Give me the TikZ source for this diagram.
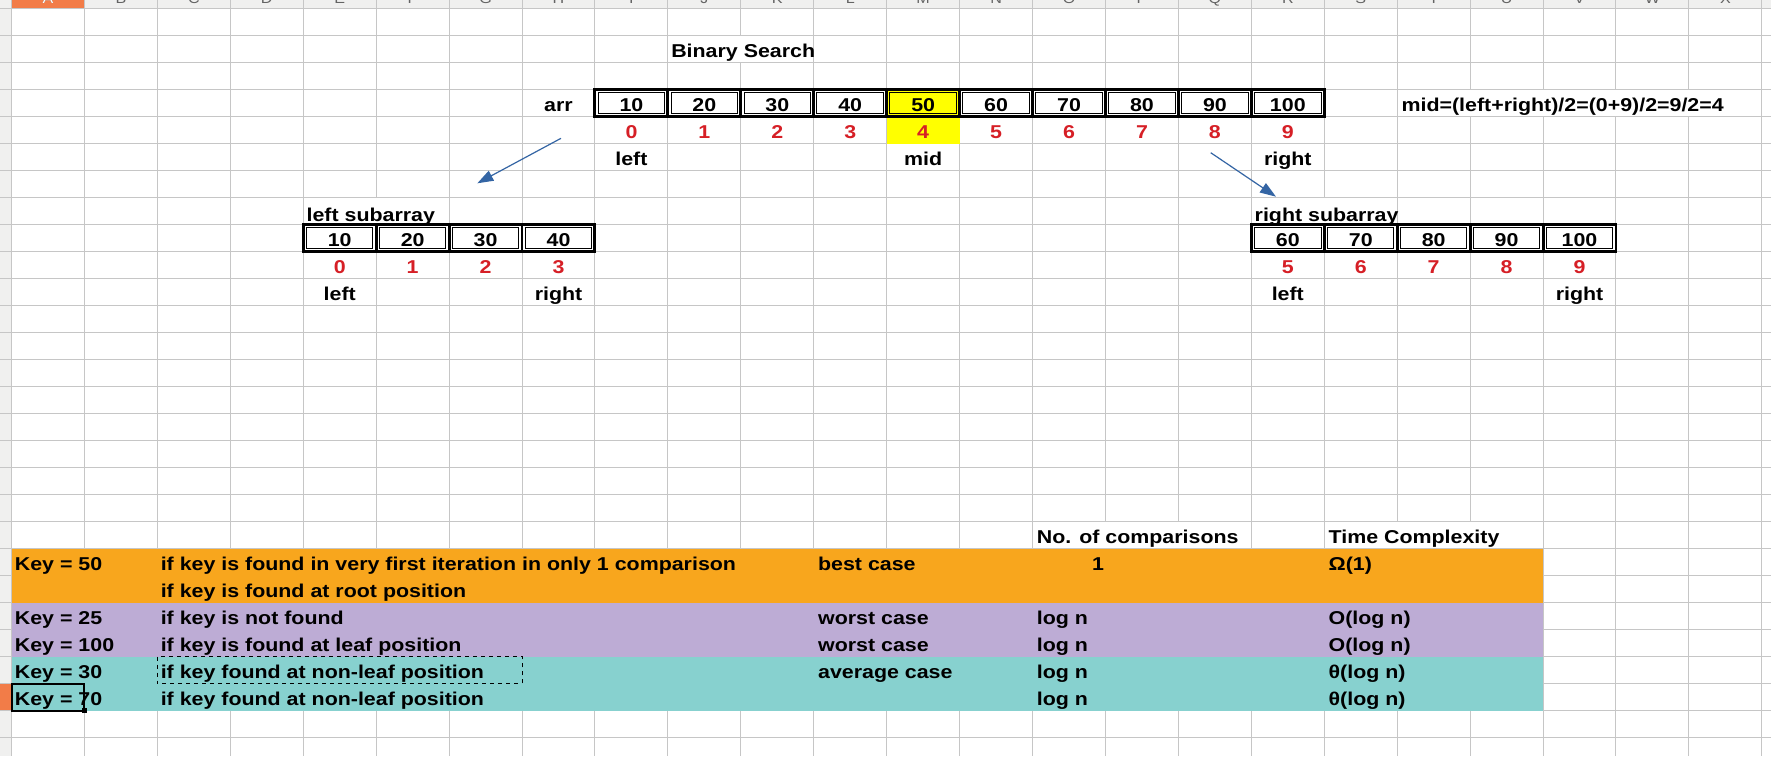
\documentclass[tikz,border=0pt]{standalone}
\usepackage{fontspec}
\setmainfont{Liberation Sans}[FakeStretch=1.15]
\usetikzlibrary{arrows.meta}
\definecolor{gridgray}{RGB}{198,198,198}
\definecolor{hdrgray}{RGB}{240,240,239}
\definecolor{hdrsel}{RGB}{242,124,72}
\definecolor{hdrtext}{RGB}{100,100,100}
\definecolor{bandorange}{RGB}{248,166,29}
\definecolor{bandpurple}{RGB}{189,172,213}
\definecolor{bandteal}{RGB}{135,209,207}
\definecolor{hlyellow}{RGB}{255,255,0}
\definecolor{idxred}{RGB}{214,31,38}
\definecolor{arrowblue}{RGB}{52,101,164}
\newcommand\colx[1]{(11.5+72.93*(#1))}
\newcommand\rowy[1]{(8.7+27*(#1))}
\newcommand\celltext{\fontsize{9.3pt}{11pt}\selectfont\bfseries}
\newcommand\dblcell[2]{%
  \draw[line width=1.45pt] ({\colx{#1}},{\rowy{#2-1}}) rectangle ({\colx{#1+1}},{\rowy{#2}});
  \draw[line width=0.5pt] ({\colx{#1}+3.2},{\rowy{#2-1}+3.2}) rectangle ({\colx{#1+1}-3.2},{\rowy{#2}-3.2});
}
\newcommand\hidev[3]{\fill[white] ({\colx{#1}+0.6},{\rowy{#3-1}+0.6}) rectangle ({\colx{#2+1}-0.6},{\rowy{#3}-0.6});}
\begin{document}
\begin{tikzpicture}[x=0.5pt,y=-0.5pt,
  cell/.style={inner sep=0pt, font=\celltext, anchor=base},
  lcell/.style={cell, anchor=base west},
  idx/.style={cell, text=idxred},
  hdr/.style={inner sep=0pt, anchor=base, font=\fontsize{7pt}{8pt}\selectfont, text=hdrtext},
  gridline/.style={draw=gridgray, line width=0.5pt},
  arrowline/.style={draw=arrowblue, line width=0.6pt, -{Triangle[length=8pt,width=5.5pt]}},
]
\useasboundingbox (0,0) rectangle (1771,756);
\clip (0,0) rectangle (1771,756);
\fill[white] (0,0) rectangle (1771,756);
% headers
\fill[hdrgray] (0,0) rectangle (1771,8.7);
\fill[hdrgray] (0,0) rectangle (11.5,756);
\fill[hdrsel] (11.5,0) rectangle ({\colx{1}},8.7);
\fill[hdrsel] (0,{\rowy{25}}) rectangle (11.5,{\rowy{26}});
% grid
\foreach \k in {0,...,24} \draw[gridline] ({\colx{\k}},0) -- ({\colx{\k}},756);
\foreach \j in {0,...,27} \draw[gridline] (0,{\rowy{\j}}) -- (1771,{\rowy{\j}});
\foreach \L [count=\n from 0] in {A,B,C,D,E,F,G,H,I,J,K,L,M,N,O,P,Q,R,S,T,U,V,W,X}
  \node[hdr] (h\n) at ({\colx{\n}+36.5},3.5) {\L};
\node[hdr, text=white] (hA) at ({\colx{0}+36.5},3.5) {A};
% hide grid lines under overflowing text
\hidev{9}{10}{2}
\hidev{19}{23}{4}
\hidev{4}{5}{8}
\hidev{17}{18}{8}
\hidev{14}{16}{20}
\hidev{18}{20}{20}
% fills
\fill[hlyellow] ({\colx{12}},{\rowy{3}}) rectangle ({\colx{13}},{\rowy{5}});
\fill[bandorange] ({\colx{0}},{\rowy{20}}) rectangle ({\colx{21}},{\rowy{22}});
\fill[bandpurple] ({\colx{0}},{\rowy{22}}) rectangle ({\colx{21}},{\rowy{24}});
\fill[bandteal] ({\colx{0}},{\rowy{24}}) rectangle ({\colx{21}},{\rowy{26}});
% double-bordered arrays
\foreach \k in {8,...,17} {\dblcell{\k}{4}}
\foreach \k in {4,...,7} {\dblcell{\k}{9}}
\foreach \k in {17,...,21} {\dblcell{\k}{9}}
% top texts
\node[lcell] (title) at ({\colx{9}+3},{\rowy{2}-5.5}) {Binary Search};
\node[cell] (arr) at ({\colx{7}+36.5},{\rowy{4}-5.5}) {arr};
\foreach \v [count=\i from 0] in {10,20,30,40,50,60,70,80,90,100} {
  \node[cell] (v\i) at ({\colx{8+\i}+36.5},{\rowy{4}-5.5}) {\v};
  \node[idx] (ix\i) at ({\colx{8+\i}+36.5},{\rowy{5}-5.5}) {\i};
}
\node[cell] (lft) at ({\colx{8}+36.5},{\rowy{6}-5.5}) {left};
\node[cell] (mid) at ({\colx{12}+36.5},{\rowy{6}-5.5}) {mid};
\node[cell] (rgt) at ({\colx{17}+36.5},{\rowy{6}-5.5}) {right};
\node[lcell] (formula) at ({\colx{19}+4},{\rowy{4}-5.5}) {mid=(left+right)/2=(0+9)/2=9/2=4};
% left subarray
\node[lcell] (lsub) at ({\colx{4}+3},{\rowy{8}-3}) {left subarray};
\foreach \v [count=\i from 0] in {10,20,30,40} {
  \node[cell] (lv\i) at ({\colx{4+\i}+36.5},{\rowy{9}-5.5}) {\v};
  \node[idx] (lix\i) at ({\colx{4+\i}+36.5},{\rowy{10}-5.5}) {\i};
}
\node[cell] (llft) at ({\colx{4}+36.5},{\rowy{11}-5.5}) {left};
\node[cell] (lrgt) at ({\colx{7}+36.5},{\rowy{11}-5.5}) {right};
% right subarray
\node[lcell] (rsub) at ({\colx{17}+3},{\rowy{8}-3}) {right subarray};
\foreach \v [count=\i from 0] in {60,70,80,90,100} {
  \node[cell] (rv\i) at ({\colx{17+\i}+36.5},{\rowy{9}-5.5}) {\v};
  \pgfmathtruncatemacro\ri{5+\i}
  \node[idx] (rix\i) at ({\colx{17+\i}+36.5},{\rowy{10}-5.5}) {\ri};
}
\node[cell] (rlft) at ({\colx{17}+36.5},{\rowy{11}-5.5}) {left};
\node[cell] (rrgt) at ({\colx{21}+36.5},{\rowy{11}-5.5}) {right};
% arrows
\coordinate (la1) at (561,138.3);
\coordinate (la2) at (477.3,183.3);
\coordinate (ra1) at (1210.7,152.7);
\coordinate (ra2) at (1276,196.7);
\draw[arrowline] (la1) -- (la2);
\draw[arrowline] (ra1) -- (ra2);
% bottom table
\node[lcell] (hcmp) at ({\colx{14}+4},{\rowy{20}-5.5}) {No. of comparisons};
\node[lcell] (htc) at ({\colx{18}+4},{\rowy{20}-5.5}) {Time Complexity};
\node[lcell] (k50) at ({\colx{0}+3},{\rowy{21}-5.5}) {Key = 50};
\node[lcell] (d50) at ({\colx{2}+3},{\rowy{21}-5.5}) {if key is found in very first iteration in only 1 comparison};
\node[lcell] (c50) at ({\colx{11}+4},{\rowy{21}-5.5}) {best case};
\node[cell] (n50) at (1098,{\rowy{21}-5.5}) {1};
\node[lcell] (t50) at ({\colx{18}+4},{\rowy{21}-5.5}) {Ω(1)};
\node[lcell] (d50b) at ({\colx{2}+3},{\rowy{22}-5.5}) {if key is found at root position};
\node[lcell] (k25) at ({\colx{0}+3},{\rowy{23}-5.5}) {Key = 25};
\node[lcell] (d25) at ({\colx{2}+3},{\rowy{23}-5.5}) {if key is not found};
\node[lcell] (c25) at ({\colx{11}+4},{\rowy{23}-5.5}) {worst case};
\node[lcell] (n25) at ({\colx{14}+4},{\rowy{23}-5.5}) {log n};
\node[lcell] (t25) at ({\colx{18}+4},{\rowy{23}-5.5}) {O(log n)};
\node[lcell] (k100) at ({\colx{0}+3},{\rowy{24}-5.5}) {Key = 100};
\node[lcell] (d100) at ({\colx{2}+3},{\rowy{24}-5.5}) {if key is found at leaf position};
\node[lcell] (c100) at ({\colx{11}+4},{\rowy{24}-5.5}) {worst case};
\node[lcell] (n100) at ({\colx{14}+4},{\rowy{24}-5.5}) {log n};
\node[lcell] (t100) at ({\colx{18}+4},{\rowy{24}-5.5}) {O(log n)};
\node[lcell] (k30) at ({\colx{0}+3},{\rowy{25}-5.5}) {Key = 30};
\node[lcell] (d30) at ({\colx{2}+3},{\rowy{25}-5.5}) {if key found at non-leaf position};
\node[lcell] (c30) at ({\colx{11}+4},{\rowy{25}-5.5}) {average case};
\node[lcell] (n30) at ({\colx{14}+4},{\rowy{25}-5.5}) {log n};
\node[lcell] (t30) at ({\colx{18}+4},{\rowy{25}-5.5}) {θ(log n)};
\node[lcell] (k70) at ({\colx{0}+3},{\rowy{26}-5.5}) {Key = 70};
\node[lcell] (d70) at ({\colx{2}+3},{\rowy{26}-5.5}) {if key found at non-leaf position};
\node[lcell] (n70) at ({\colx{14}+4},{\rowy{26}-5.5}) {log n};
\node[lcell] (t70) at ({\colx{18}+4},{\rowy{26}-5.5}) {θ(log n)};
% copy marquee and selected cell
\draw[line width=0.5pt, dash pattern=on 2pt off 2pt] ({\colx{2}},{\rowy{24}}) rectangle ({\colx{7}},{\rowy{25}});
\draw[line width=1pt] ({\colx{0}},{\rowy{25}}) rectangle ({\colx{1}},{\rowy{26}});
\fill ({\colx{1}-2.5},{\rowy{26}-2.5}) rectangle ({\colx{1}+2.5},{\rowy{26}+2.5});
\end{tikzpicture}
\end{document}
